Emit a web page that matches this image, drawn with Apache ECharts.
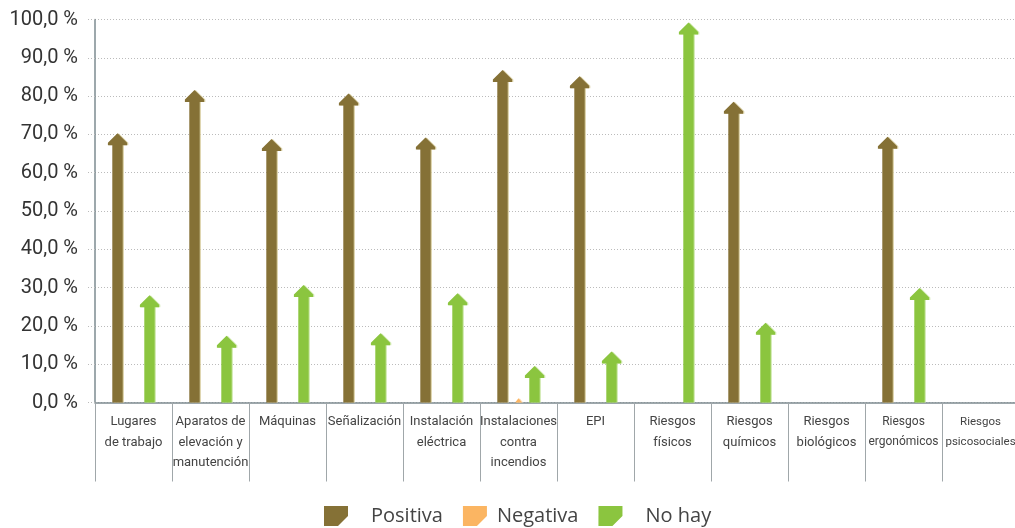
<!DOCTYPE html>
<html>
<head>
<meta charset="utf-8">
<script src="https://cdn.jsdelivr.net/npm/echarts@6/dist/echarts.min.js"></script>
<style>
html,body{margin:0;padding:0;background:#fff;overflow:hidden;}
#c{width:1015px;height:528px;}
</style>
</head>
<body>
<div id="c"></div>
<script>
const categories = [
  'Lugares\nde trabajo',
  'Aparatos de\nelevación y\nmanutención',
  'Máquinas',
  'Señalización',
  'Instalación\neléctrica',
  'Instalaciones\ncontra\nincendios',
  'EPI',
  'Riesgos\nfísicos',
  'Riesgos\nquímicos',
  'Riesgos\nbiológicos',
  'Riesgos\nergonómicos',
  'Riesgos\npsicosociales'
];
const positiva = [70.3, 81.6, 68.8, 80.7, 69.2, 86.8, 85.2, null, 78.5, null, 69.4, null];
const negativa = [null, null, null, null, null, 1.1, null, null, null, null, null, null];
const noHay   = [28.0, 17.4, 30.7, 18.1, 28.5, 9.5, 13.3, 99.2, 20.8, null, 29.9, null];
const yTicks = [0, 10, 20, 30, 40, 50, 60, 70, 80, 90, 100];

const COLORS = { positiva: '#857136', negativa: '#FBB562', noHay: '#8BC53F' };
const EDGE = { positiva: 'rgba(215,205,160,0.9)', negativa: 'rgba(253,220,180,0.9)', noHay: 'rgba(205,232,170,0.9)' };

// label sizes: the two longest labels get a slightly smaller font so they fit their column
const labelSize = { 'Riesgos\nergonómicos': 12, 'Riesgos\npsicosociales': 11.5 };
const categoryData = categories.map(c => labelSize[c] ? { value: c, textStyle: { fontSize: labelSize[c] } } : c);

function toData(arr) {
  const out = [];
  arr.forEach((v, i) => { if (v !== null && v !== undefined) out.push([i, v]); });
  return out;
}

function arrowRenderer(offset, color, edge) {
  return function (params, api) {
    const idx = api.value(0), v = api.value(1);
    const top = api.coord([idx, v]);
    const base = api.coord([idx, 0]);
    const x = top[0] + offset;
    const t = top[1], b = base[1];
    const H = b - t;
    const hw = 9.6, bw = 5.2, hs = 9.5, hh = 12;
    let pts;
    if (H < hh) {
      const s = H / hh;
      pts = [[x, t], [x + hw * s, b], [x - hw * s, b]];
    } else {
      pts = [[x, t], [x + hw, t + hs], [x + hw, t + hh], [x + bw, t + hh], [x + bw, b],
             [x - bw, b], [x - bw, t + hh], [x - hw, t + hh], [x - hw, t + hs]];
    }
    return {
      type: 'polygon',
      shape: { points: pts },
      style: { fill: color, shadowColor: edge, shadowOffsetX: 1.2, shadowBlur: 0 }
    };
  };
}

const legendIcon = 'path://M0,0 L24,0 L24,10 L14,20 L0,20 Z';

const chart = echarts.init(document.getElementById('c'), null, { renderer: 'canvas' });
chart.setOption({
  animation: false,
  backgroundColor: '#fff',
  grid: { left: 95, width: 924, top: 19.5, height: 383, containLabel: false, outerBoundsMode: 'none' },
  legend: {
    left: 319, top: 501,
    itemWidth: 24, itemHeight: 20, itemGap: 20,
    textStyle: { fontFamily: 'Open Sans, Noto Sans, sans-serif', fontSize: 20, color: '#444', padding: [0, 0, 0, 18] },
    data: [
      { name: 'Positiva', icon: legendIcon },
      { name: 'Negativa', icon: legendIcon, textStyle: { padding: [0, 0, 0, 5] } },
      { name: 'No hay', icon: legendIcon }
    ]
  },
  xAxis: {
    type: 'category',
    data: categoryData,
    boundaryGap: true,
    axisLine: { lineStyle: { color: '#7d8b90', width: 1.5 } },
    axisTick: { show: true, interval: 0, alignWithLabel: false, length: 79, lineStyle: { color: '#a0a7aa', width: 1 } },
    axisLabel: {
      interval: 0, margin: 9,
      fontFamily: 'Roboto, Liberation Sans, sans-serif',
      fontSize: 13, lineHeight: 20.5, color: '#444', align: 'center'
    },
    splitLine: { show: false }
  },
  yAxis: {
    type: 'value',
    min: yTicks[0], max: yTicks[yTicks.length - 1], interval: 10,
    axisLine: { show: true, lineStyle: { color: '#7d8b90', width: 1.5 } },
    axisTick: { show: true, length: 8, lineStyle: { color: '#bbb', type: [1, 2] } },
    axisLabel: {
      margin: 17,
      fontFamily: 'Roboto, Liberation Sans, sans-serif',
      fontSize: 20, color: '#333',
      formatter: v => v.toFixed(1).replace('.', ',') + ' %'
    },
    splitLine: { show: true, lineStyle: { color: '#bbb', width: 1, type: [1, 2] } }
  },
  series: [
    {
      name: 'Positiva', type: 'custom', data: toData(positiva), encode: { x: 0, y: 1 },
      itemStyle: { color: COLORS.positiva },
      renderItem: arrowRenderer(-16, COLORS.positiva, EDGE.positiva)
    },
    {
      name: 'Negativa', type: 'custom', data: toData(negativa), encode: { x: 0, y: 1 },
      itemStyle: { color: COLORS.negativa },
      renderItem: arrowRenderer(0, COLORS.negativa, EDGE.negativa)
    },
    {
      name: 'No hay', type: 'custom', data: toData(noHay), encode: { x: 0, y: 1 },
      itemStyle: { color: COLORS.noHay },
      renderItem: arrowRenderer(16, COLORS.noHay, EDGE.noHay)
    }
  ]
});
</script>
</body>
</html>
